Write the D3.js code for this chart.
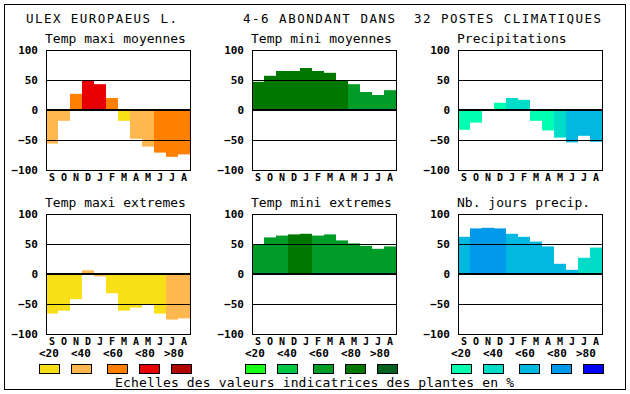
<!DOCTYPE html>
<html>
<head>
<meta charset="utf-8">
<script src="https://cdn.jsdelivr.net/npm/d3@7"></script>
<style>
  body { margin: 0; background: #fff; }
  text { font-family: "DejaVu Sans Mono", monospace; }
</style>
</head>
<body>
<svg id="chart" width="630" height="394"></svg>
<script>
// month keys (S..A), values are indicator scores, class = colour step 0..4
var months = ["S","O","N","D","J","F","M","A","M","J","J","A"];
var yTicks = [100, 50, 0, -50, -100];
var classLabels = ["<20","<40","<60","<80",">80"];

var tmaxMoy    = [-56, -18, 27, 49, 43, 20, -18, -48, -61, -71, -78, -74];
var tmaxMoyCls = [1, 1, 2, 3, 3, 2, 0, 1, 1, 2, 2, 2];
var tminMoy    = [47, 57, 65, 65, 70, 65, 62, 49, 43, 30, 25, 33];
var tminMoyCls = [3, 3, 3, 3, 3, 3, 3, 3, 2, 2, 2, 2];
var precip     = [-33, -21, 0, 12, 20, 17, -18, -34, -46, -54, -43, -53];
var precipCls  = [0, 0, 0, 0, 1, 1, 0, 0, 1, 2, 2, 2];
var tmaxExt    = [-66, -61, -42, 6, -4, -32, -61, -56, -51, -66, -76, -74];
var tmaxExtCls = [0, 0, 0, 1, 1, 0, 0, 0, 0, 0, 1, 1];
var tminExt    = [50, 61, 64, 66, 67, 64, 66, 56, 51, 47, 42, 46];
var tminExtCls = [2, 2, 2, 3, 3, 2, 2, 2, 2, 2, 2, 2];
var jours      = [62, 76, 77, 76, 67, 62, 54, 46, 17, 7, 27, 44];
var joursCls   = [2, 3, 3, 3, 2, 2, 2, 2, 2, 2, 1, 1];

var tempColors  = ["#f8e018", "#ffb850", "#ff8000", "#e80000", "#b00800"];
var greenColors = ["#18ff18", "#00c840", "#009c28", "#007800", "#006020"];
var blueColors  = ["#00ffb0", "#00dcc8", "#00b8e0", "#0098e8", "#0000f8"];

var panels = [
  {title: "Temp maxi moyennes", values: tmaxMoy, cls: tmaxMoyCls, colors: tempColors, col: 0, row: 0},
  {title: "Temp mini moyennes", values: tminMoy, cls: tminMoyCls, colors: greenColors, col: 1, row: 0},
  {title: "Precipitations", values: precip, cls: precipCls, colors: blueColors, col: 2, row: 0},
  {title: "Temp maxi extremes", values: tmaxExt, cls: tmaxExtCls, colors: tempColors, col: 0, row: 1},
  {title: "Temp mini extremes", values: tminExt, cls: tminExtCls, colors: greenColors, col: 1, row: 1},
  {title: "Nb. jours precip.", values: jours, cls: joursCls, colors: blueColors, col: 2, row: 1}
];

var colLeft = [46, 252, 458];
var rowTop = [50, 214];
var pw = 144, ph = 120;

var svg = d3.select('#chart');

svg.append('rect')
    .attr('x', 4.5).attr('y', 4.5)
    .attr('width', 621).attr('height', 385)
    .attr('fill', '#fff').attr('stroke', '#000');

// top title line
var titles = [
  {text: "ULEX EUROPAEUS L.", x: 26, w: 151},
  {text: "4-6 ABONDANT DANS", x: 243, w: 152},
  {text: "32 POSTES CLIMATIQUES", x: 414, w: 187}
];
svg.selectAll('text.title').data(titles)
    .enter().append('text')
        .attr('class', 'title')
        .attr('x', function(d) { return d.x; })
        .attr('y', 22.5)
        .attr('textLength', function(d) { return d.w; })
        .attr('lengthAdjust', 'spacing')
        .style('font-size', '12.5px')
        .text(function(d) { return d.text; });

var x = d3.scaleBand().domain(d3.range(12)).range([0, pw]).padding(0);
var y = d3.scaleLinear().domain([-100, 100]).range([ph, 0]);

panels.forEach(function(p) {
    var g = svg.append('g')
        .attr('transform', 'translate(' + colLeft[p.col] + ',' + rowTop[p.row] + ')');

    g.append('text')
        .attr('x', -1).attr('y', -7)
        .style('font-size', '13px')
        .text(p.title);

    g.selectAll('rect.bar').data(p.values)
        .enter().append('rect')
            .attr('class', 'bar')
            .attr('x', function(d, i) { return x(i); })
            .attr('width', x.bandwidth())
            .attr('y', function(d) { return y(Math.max(0, d)); })
            .attr('height', function(d) { return Math.abs(y(d) - y(0)); })
            .style('fill', function(d, i) { return p.colors[p.cls[i]]; });

    // grid lines at 50, 0, -50
    g.selectAll('line.grid').data([50, 0, -50])
        .enter().append('line')
            .attr('x1', 0).attr('x2', pw)
            .attr('y1', function(d) { return Math.round(y(d)) + (d == 0 ? 0 : 0.5); })
            .attr('y2', function(d) { return Math.round(y(d)) + (d == 0 ? 0 : 0.5); })
            .attr('stroke', '#000')
            .attr('stroke-width', function(d) { return d == 0 ? 2 : 1; });

    g.append('rect')
        .attr('x', 0.5).attr('y', 0.5)
        .attr('width', pw).attr('height', ph)
        .attr('fill', 'none').attr('stroke', '#000');

    var ya = g.append('g')
        .call(d3.axisLeft(y).tickValues(yTicks).tickSize(0).tickPadding(8));
    ya.select('.domain').remove();
    ya.selectAll('text')
        .style('font-family', '"DejaVu Sans Mono", monospace')
        .style('font-weight', 'bold')
        .style('font-size', '11px')
        .attr('dy', '0.35em');

    var xa = g.append('g')
        .attr('transform', 'translate(0,' + ph + ')')
        .call(d3.axisBottom(x).tickSize(0).tickPadding(4)
            .tickFormat(function(i) { return months[i]; }));
    xa.select('.domain').remove();
    xa.selectAll('text')
        .style('font-family', '"DejaVu Sans Mono", monospace')
        .style('font-weight', 'bold')
        .style('font-size', '10px');

    if (p.row == 1) {
        var off = [-7, 25, 57, 89, 118];
        g.selectAll('text.cl').data(classLabels)
            .enter().append('text')
                .attr('class', 'cl')
                .attr('x', function(d, i) { return off[i]; })
                .attr('y', ph + 23)
                .style('font-weight', 'bold')
                .style('font-size', '11px')
                .text(function(d) { return d; });

        var boxX = [-7, 25, 61, 93, 125];
        g.selectAll('rect.leg').data(p.colors)
            .enter().append('rect')
                .attr('class', 'leg')
                .attr('x', function(d, i) { return boxX[i] + 0.5; })
                .attr('y', 364.5 - rowTop[p.row])
                .attr('width', 20).attr('height', 9)
                .attr('stroke', '#000')
                .style('fill', function(d) { return d; });
    }
});

svg.append('text')
    .attr('x', 115).attr('y', 387)
    .attr('textLength', 399)
    .attr('lengthAdjust', 'spacing')
    .style('font-size', '13px')
    .text("Echelles des valeurs indicatrices des plantes en %");
</script>
</body>
</html>
